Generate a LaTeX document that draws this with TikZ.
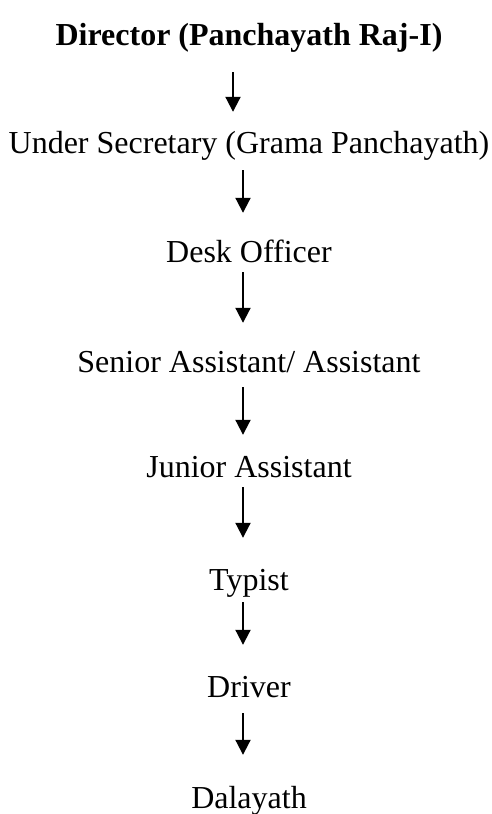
\documentclass[tikz,border=0pt]{standalone}
\usepackage{fontspec}
\setmainfont{Liberation Serif}
\usetikzlibrary{arrows.meta}

\tikzset{
  post/.style={anchor=base, inner sep=0pt, text height=22pt, text depth=7pt,
               font=\fontsize{32}{38}\selectfont},
  headpost/.style={post, font=\fontsize{32}{38}\selectfont\bfseries},
  flow/.style={line width=2pt, -{Triangle[length=15pt,width=15pt]}}
}

\begin{document}
\begin{tikzpicture}[x=1pt, y=-1pt]
  \useasboundingbox (0,0) rectangle (491,814);

  % hierarchy levels, top to bottom
  \node[headpost] (dir) at (249,45)  {Director (Panchayath Raj-I)};
  \node[post]     (us)  at (249,153) {Under Secretary (Grama Panchayath)};
  \node[post]     (do)  at (249,262) {Desk Officer};
  \node[post]     (sa)  at (249,372) {Senior Assistant/ Assistant};
  \node[post]     (ja)  at (249,477) {Junior Assistant};
  \node[post]     (ty)  at (249,590) {Typist};
  \node[post]     (dr)  at (249,697) {Driver};
  \node[post]     (da)  at (249,808) {Dalayath};

  % vertical axes of the arrows
  \coordinate (ax1) at (233,0);
  \coordinate (ax)  at (243,0);

  % reporting arrows
  \draw[flow, shorten <=20pt, shorten >=19pt] (dir.south -| ax1) -- (us.north -| ax1);
  \draw[flow, shorten <=10pt, shorten >=27pt] (us.south -| ax) -- (do.north -| ax);
  \draw[flow, shorten <=3pt,  shorten >=27pt] (do.south -| ax) -- (sa.north -| ax);
  \draw[flow, shorten <=8pt,  shorten >=20pt] (sa.south -| ax) -- (ja.north -| ax);
  \draw[flow, shorten <=3pt,  shorten >=30pt] (ja.south -| ax) -- (ty.north -| ax);
  \draw[flow, shorten <=5pt,  shorten >=30pt] (ty.south -| ax) -- (dr.north -| ax);
  \draw[flow, shorten <=9pt,  shorten >=31pt] (dr.south -| ax) -- (da.north -| ax);
\end{tikzpicture}
\end{document}
